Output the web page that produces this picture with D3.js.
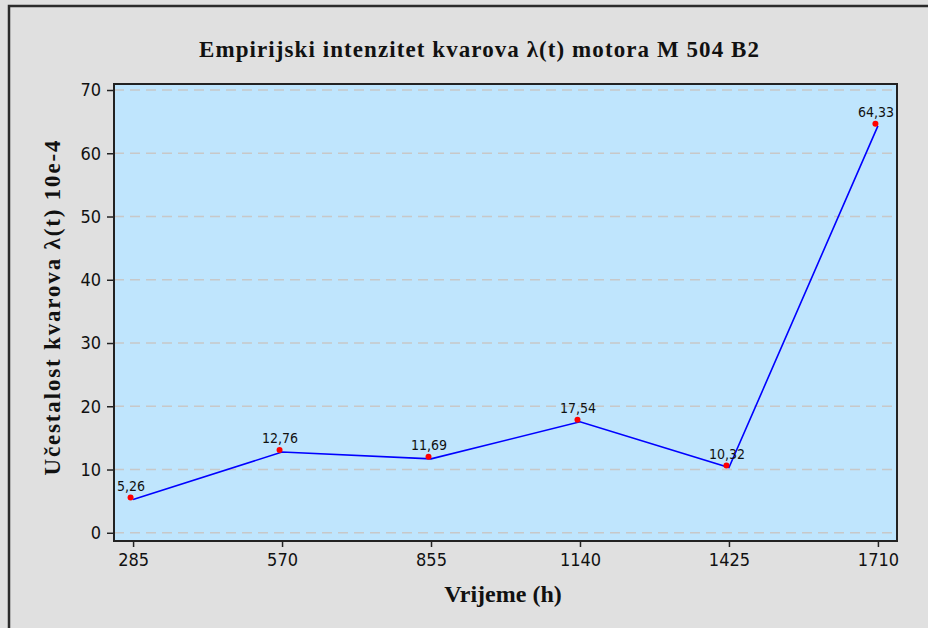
<!DOCTYPE html>
<html lang="hr">
<head>
<meta charset="UTF-8">
<script src="https://cdn.jsdelivr.net/npm/d3@7"></script>
<style>
    html, body { margin: 0; padding: 0; overflow: hidden; background: #e0e0e0; }
    svg { display: block; }
    .grid line { stroke: #c8c8c8; stroke-width: 1.5px; stroke-dasharray: 10 6; }
    .axis text { font-family: "DejaVu Sans Condensed", "DejaVu Sans", sans-serif; font-stretch: condensed; font-size: 18px; fill: #111; }
    .axis path { display: none; }
    .axis line { stroke: #222; stroke-width: 1.5px; }
    .title, .alabel { font-family: "Liberation Serif", serif; font-weight: bold; fill: #111; }
    .vlabel { font-family: "DejaVu Sans Condensed", "DejaVu Sans", sans-serif; font-stretch: condensed; font-size: 14px; fill: #111; }
</style>
</head>
<body>
<svg id="chart" width="928" height="628"></svg>
<script>
    // vrijeme (h) i intenzitet kvarova (10e-4)
    const hours = [285, 570, 855, 1140, 1425, 1710];
    const rates = [5.26, 12.76, 11.69, 17.54, 10.32, 64.33];
    const yTicks = [0, 10, 20, 30, 40, 50, 60, 70];

    const svg = d3.select("#chart");
    const plot = { left: 114, top: 84, right: 897, bottom: 541 };

    // outer frame (cut off at right and bottom like the original)
    svg.append("rect")
        .attr("x", 9).attr("y", 6).attr("width", 1000).attr("height", 1000)
        .attr("fill", "#e0e0e0").attr("stroke", "#2b2b2b").attr("stroke-width", 2.5);

    const x = d3.scaleLinear().domain([248.5, 1746.5]).range([plot.left, plot.right]);
    const y = d3.scaleLinear().domain([-1.3, 70.95]).range([plot.bottom, plot.top]);

    svg.append("rect")
        .attr("x", plot.left).attr("y", plot.top)
        .attr("width", plot.right - plot.left).attr("height", plot.bottom - plot.top)
        .attr("fill", "#bfe5fd");

    svg.append("g").attr("class", "grid")
        .selectAll("line").data(yTicks).join("line")
        .attr("x1", plot.left).attr("x2", plot.right)
        .attr("y1", d => y(d)).attr("y2", d => y(d));

    svg.append("rect")
        .attr("x", plot.left).attr("y", plot.top)
        .attr("width", plot.right - plot.left).attr("height", plot.bottom - plot.top)
        .attr("fill", "none").attr("stroke", "#222").attr("stroke-width", 2);

    svg.append("g").attr("class", "axis")
        .attr("transform", `translate(0,${plot.bottom + 1})`)
        .call(d3.axisBottom(x).tickValues(hours).tickSize(5).tickPadding(3).tickFormat(d3.format("d")))
        .selectAll("text").attr("dy", "0.9em");

    svg.append("g").attr("class", "axis")
        .attr("transform", `translate(${plot.left - 1},0)`)
        .call(d3.axisLeft(y).tickValues(yTicks).tickSize(6).tickPadding(6));

    const line = d3.line().x((d, i) => x(hours[i])).y(d => y(d));
    svg.append("path").datum(rates)
        .attr("d", line)
        .attr("fill", "none").attr("stroke", "#0000ff").attr("stroke-width", 1.6);

    svg.append("g").selectAll("circle").data(rates).join("circle")
        .attr("cx", (d, i) => x(hours[i]) - 2.5)
        .attr("cy", d => y(d) - 2)
        .attr("r", 3).attr("fill", "#ff0000");

    svg.append("g").selectAll("text").data(rates).join("text")
        .attr("class", "vlabel")
        .attr("x", (d, i) => x(hours[i]) - 2)
        .attr("y", d => y(d) - 9)
        .attr("text-anchor", "middle")
        .text(d => d3.format(".2f")(d).replace(".", ","));

    svg.append("text").attr("class", "title")
        .attr("x", 479).attr("y", 57).attr("text-anchor", "middle")
        .attr("font-size", 23)
        .attr("textLength", 560).attr("lengthAdjust", "spacing")
        .text("Empirijski intenzitet kvarova  λ(t) motora M 504 B2");

    svg.append("text").attr("class", "alabel")
        .attr("x", 503).attr("y", 602).attr("text-anchor", "middle")
        .attr("font-size", 24)
        .text("Vrijeme (h)");

    svg.append("text").attr("class", "alabel")
        .attr("transform", "translate(60,308) rotate(-90)")
        .attr("text-anchor", "middle")
        .attr("font-size", 23)
        .attr("textLength", 335).attr("lengthAdjust", "spacing")
        .text("Učestalost kvarova  λ(t) 10e-4");
</script>
</body>
</html>
